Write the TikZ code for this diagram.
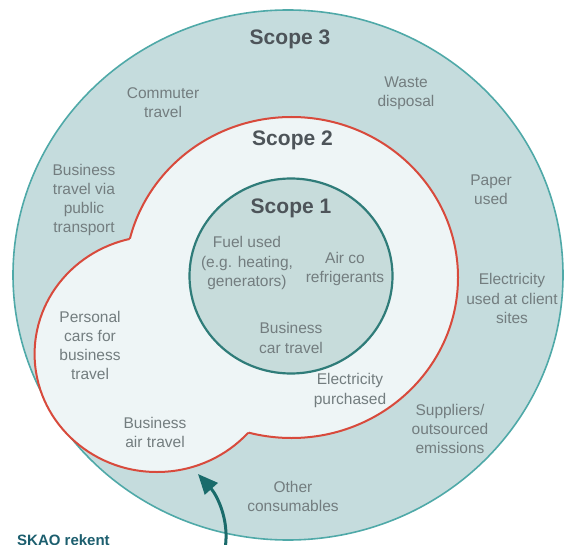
\documentclass[tikz,border=0pt]{standalone}
\usepackage{fontspec}
\setmainfont{Liberation Sans}
\usetikzlibrary{arrows.meta}
\definecolor{outerfill}{HTML}{C5DCDD}
\definecolor{outerline}{HTML}{4FA9A8}
\definecolor{stwofill}{HTML}{EEF5F6}
\definecolor{redline}{HTML}{D84A3C}
\definecolor{sonefill}{HTML}{C7DCDB}
\definecolor{soneline}{HTML}{2F7C79}
\definecolor{txtgray}{HTML}{737D7F}
\definecolor{titlegray}{HTML}{4D5459}
\definecolor{arrowteal}{HTML}{1A6B6B}
\definecolor{skaoteal}{HTML}{1C5E6E}
\begin{document}
\begin{tikzpicture}[x=1pt,y=1pt,
  lbl/.style={text=txtgray, font=\fontsize{15.5}{19.3}\selectfont, align=center, inner sep=0pt},
  ttl/.style={text=titlegray, font=\fontsize{21}{24}\selectfont\bfseries, inner sep=0pt},
  redstroke/.style={draw=redline, line width=2pt},
  arrowline/.style={draw=arrowteal, line width=3pt}]
\useasboundingbox (0,0) rectangle (564,544);
\clip (0,0) rectangle (564,544);
% scope 3
\path[draw=outerline, fill=outerfill, line width=1.6pt] (288,269) ellipse [x radius=275, y radius=265];
% scope 2 union shape
\fill[stwofill] (291.5,266.5) ellipse [x radius=166.5, y radius=160.5];
\fill[stwofill] (157,190) ellipse [x radius=122.4, y radius=118];
\begin{scope}
  \clip (-1000,1000) -- (1000,1000) -- (1000,-1000) -- (-1000,-1000) -- cycle
    (157,190) ellipse [x radius=122.4, y radius=118];
  \path[redstroke] (291.5,266.5) ellipse [x radius=166.5, y radius=160.5];
\end{scope}
\begin{scope}
  \clip (-1000,1000) -- (1000,1000) -- (1000,-1000) -- (-1000,-1000) -- cycle
    (291.5,266.5) ellipse [x radius=166.5, y radius=160.5];
  \path[redstroke] (157,190) ellipse [x radius=122.4, y radius=118];
\end{scope}
% scope 1
\path[draw=soneline, fill=sonefill, line width=2.2pt] (291,268) ellipse [x radius=101.5, y radius=97.5];
% titles
\node[ttl] (s3) at (290,505) {Scope 3};
\node[ttl] (s2) at (292.5,404) {Scope 2};
\node[ttl] (s1) at (291,336) {Scope 1};
% scope 3 items
\node[lbl] (commuter) at (163,441.5) {Commuter\\travel};
\node[lbl] (waste) at (406,450.5) {Waste\\disposal};
\node[lbl] (pubtrans) at (84,344) {Business\\travel via\\public\\transport};
\node[lbl] (paper) at (491,354.5) {Paper\\used};
\node[lbl] (client) at (512,245.5) {Electricity\\used at client\\sites};
\node[lbl] (suppliers) at (450,115) {Suppliers/\\outsourced\\emissions};
\node[lbl] (other) at (293,47.5) {Other\\consumables};
% scope 2 items
\node[lbl] (personal) at (90,198.5) {Personal\\cars for\\business\\travel};
\node[lbl] (air) at (155,111.5) {Business\\air travel};
\node[lbl] (elec) at (350,153.5) {Electricity\\purchased};
% scope 1 items
\node[lbl] (fuel) at (247,281) {Fuel used\\(e.g. heating,\\generators)};
\node[lbl] (airco) at (345,275) {Air co\\refrigerants};
\node[lbl] (car) at (291,206) {Business\\car travel};
% SKAO note and arrow
\node[anchor=base west, inner sep=0pt, text=skaoteal, font=\fontsize{15}{18}\selectfont\bfseries] (skao) at (17,-1) {SKAO rekent};
\coordinate (arrowstart) at (225,-5);
\coordinate (arrowtip) at (198,70);
\draw[arrowline, -{Triangle[length=20pt,width=17pt]}] (arrowstart) .. controls (230,25) and (216,50) .. (arrowtip);
\end{tikzpicture}
\end{document}
